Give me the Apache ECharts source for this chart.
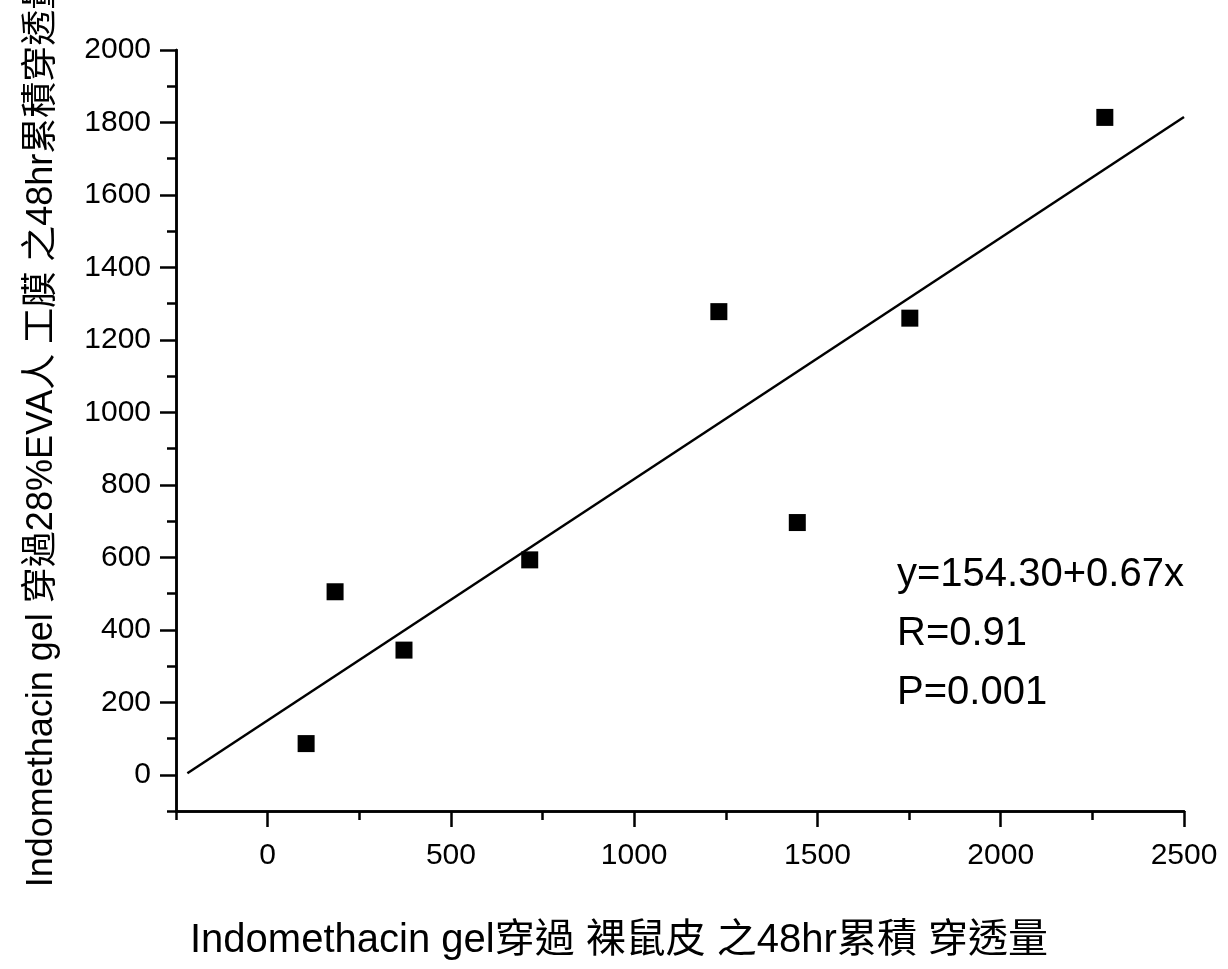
<!DOCTYPE html>
<html>
<head>
<meta charset="utf-8">
<script src="https://cdn.jsdelivr.net/npm/echarts@6/dist/echarts.min.js"></script>
<style>
html,body{margin:0;padding:0;background:#fff;}
#chart{width:1228px;height:969px;}
</style>
</head>
<body>
<div id="chart"></div>
<script>
// Data
var xValues = [105, 184, 372, 715, 1231, 1445, 1752, 2284];
var yValues = [86, 505, 344, 593, 1278, 696, 1260, 1814];
// fitted line end points as drawn
var fitX = [-219, 2500];
var fitY = [4, 1815];
// tick values
var xMajorTicks = [0, 500, 1000, 1500, 2000, 2500];
var xMinorTicks = [-250, 250, 750, 1250, 1750, 2250];
var yMajorTicks = [0, 200, 400, 600, 800, 1000, 1200, 1400, 1600, 1800, 2000];
var yMinorTicks = [-100, 100, 300, 500, 700, 900, 1100, 1300, 1500, 1700, 1900];
var annotationLines = ['y=154.30+0.67x', 'R=0.91', 'P=0.001'];
var xTitle = 'Indomethacin gel穿過 裸鼠皮 之48hr累積 穿透量';
var yTitle = 'Indomethacin gel 穿過28%EVA人 工膜 之48hr累積穿透量';

var FONT = "'Liberation Sans', Arial, 'Noto Sans CJK TC', sans-serif";
var scatterData = xValues.map(function (x, i) { return [x, yValues[i]]; });
var fitData = fitX.map(function (x, i) { return [x, fitY[i]]; });

var lineStyle = { color: '#000', width: 2.5 };
function plain(v) { return String(v); }

function xAxisCfg(ticks, len, showLabel, withName) {
  var a = {
    type: 'value', gridIndex: 0, position: 'bottom', min: -250, max: 2500,
    axisLine: { show: true, onZero: false, lineStyle: lineStyle },
    axisTick: { show: true, customValues: ticks, length: len, inside: false, lineStyle: lineStyle },
    axisLabel: { show: showLabel, customValues: ticks, formatter: plain, margin: 30, fontSize: 30, color: '#000', fontFamily: FONT },
    splitLine: { show: false }
  };
  if (withName) {
    a.name = xTitle;
    a.nameLocation = 'middle';
    a.nameGap = 110;
    a.nameTextStyle = { fontSize: 40, color: '#000', fontFamily: FONT, padding: [0, 122, 0, 0] };
  }
  return a;
}
function yAxisCfg(ticks, len, showLabel, withName) {
  var a = {
    type: 'value', gridIndex: 0, position: 'left', min: -100, max: 2000,
    axisLine: { show: true, onZero: false, lineStyle: lineStyle },
    axisTick: { show: true, customValues: ticks, length: len, inside: false, lineStyle: lineStyle },
    axisLabel: { show: showLabel, customValues: ticks, formatter: plain, margin: 25, fontSize: 30, color: '#000', fontFamily: FONT },
    splitLine: { show: false }
  };
  if (withName) {
    a.name = yTitle;
    a.nameLocation = 'middle';
    a.nameGap = 116;
    a.nameTextStyle = { fontSize: 36, color: '#000', fontFamily: FONT };
  }
  return a;
}

var chart = echarts.init(document.getElementById('chart'), null, { renderer: 'canvas' });
chart.setOption({
  backgroundColor: '#fff',
  animation: false,
  grid: { left: 176, right: 44, top: 50, bottom: 158, containLabel: false, outerBoundsMode: 'none' },
  xAxis: [xAxisCfg(xMajorTicks, 16, true, true), xAxisCfg(xMinorTicks, 9, false, false)],
  yAxis: [yAxisCfg(yMajorTicks, 16, true, true), yAxisCfg(yMinorTicks, 9, false, false)],
  graphic: [{
    type: 'text', left: 897, top: 545,
    style: {
      text: annotationLines.join('\n'),
      font: '40px ' + FONT,
      fill: '#000',
      lineHeight: 59
    }
  }],
  series: [
    {
      type: 'line', xAxisIndex: 0, yAxisIndex: 0, data: fitData,
      symbol: 'none', lineStyle: { color: '#000', width: 2.5 }, silent: true
    },
    {
      type: 'scatter', xAxisIndex: 0, yAxisIndex: 0, data: scatterData,
      symbol: 'rect', symbolSize: 17, itemStyle: { color: '#000', opacity: 1 }
    }
  ]
});
</script>
</body>
</html>
